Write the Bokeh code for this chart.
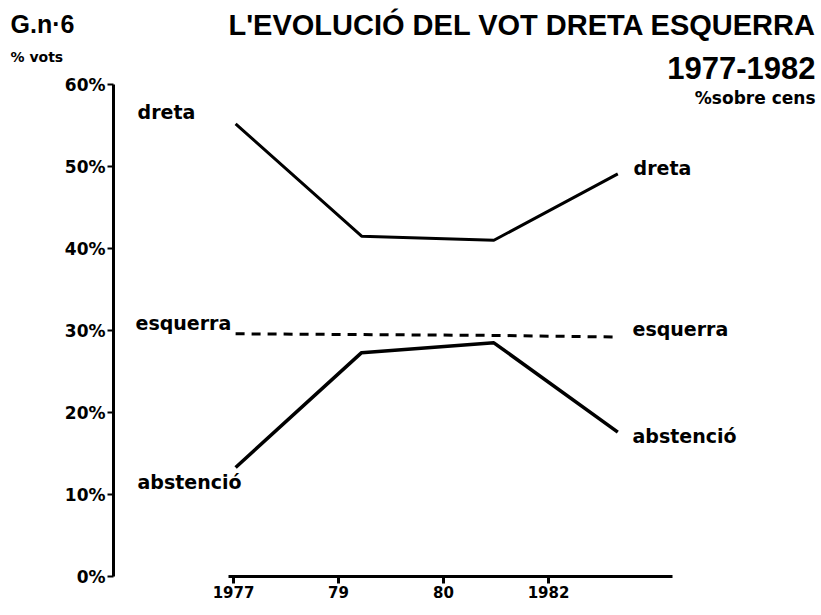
from bokeh.plotting import figure
from bokeh.models import Range1d, FixedTicker, Label
from bokeh.embed import file_html
from bokeh.resources import INLINE

# ---- data ----
elections = ["1977", "79", "80", "1982"]          # x tick labels
tick_pos = [0, 1, 2, 3]                            # tick positions
x_pos = [0.02, 1.22, 2.48, 3.66]                   # where the points are drawn
dreta = [55.2, 41.5, 41.0, 49.1]
esquerra = [29.6, 29.5, 29.4, 29.2]
abstencio = [13.3, 27.3, 28.5, 17.6]
y_ticks = [0, 10, 20, 30, 40, 50, 60]
y_tick_labels = ["0%", "10%", "20%", "30%", "40%", "50%", "60%"]

FONT = "DejaVu Sans"
TFONT = "Liberation Sans"
W, H = 821, 612
X0, PXU = 233, 105.0     # canvas x of first tick, pixels per x unit
Y0, PXP = 576, 8.2       # canvas y of 0 %, pixels per percent
AXIS_X = 113             # canvas x of the y axis

p = figure(width=W, height=H, output_backend="svg", toolbar_location=None,
           x_range=Range1d(-X0 / PXU, (W - X0) / PXU),
           y_range=Range1d(-(H - Y0) / PXP, Y0 / PXP),
           min_border_left=0, min_border_right=0, min_border_top=0,
           min_border_bottom=0)
p.xgrid.visible = False
p.ygrid.visible = False
p.outline_line_color = None
p.background_fill_color = "white"
p.border_fill_color = "white"

# x axis
xa = p.xaxis[0]
xa.fixed_location = 0
xa.ticker = FixedTicker(ticks=tick_pos)
xa.major_label_overrides = {t: l for t, l in zip(tick_pos, elections)}
xa.bounds = (-0.05, 4.18)
xa.axis_line_width = 3
xa.axis_line_color = "black"
xa.major_tick_line_width = 3
xa.major_tick_out = 7
xa.major_tick_in = 0
xa.minor_tick_line_color = None
xa.major_label_standoff = 2
xa.major_label_text_font = FONT
xa.major_label_text_font_style = "bold"
xa.major_label_text_font_size = "15px"
xa.major_label_text_color = "black"

# y axis
ya = p.yaxis[0]
ya.fixed_location = (AXIS_X - X0) / PXU
ya.ticker = FixedTicker(ticks=y_ticks)
ya.major_label_overrides = {t: l for t, l in zip(y_ticks, y_tick_labels)}
ya.bounds = (0, 60)
ya.axis_line_width = 3
ya.axis_line_color = "black"
ya.major_tick_line_width = 2
ya.major_tick_out = 6
ya.major_tick_in = 0
ya.minor_tick_line_color = None
ya.major_label_standoff = 2
ya.major_label_text_font = FONT
ya.major_label_text_font_style = "bold"
ya.major_label_text_font_size = "17px"
ya.major_label_text_color = "black"

# series
p.line(x_pos, dreta, line_color="black", line_width=3)
p.line(x_pos, esquerra, line_color="black", line_width=3, line_dash="9 7")
p.line(x_pos, abstencio, line_color="black", line_width=3.5)

def lab(x, y, text, size="19px", font=FONT, align="left"):
    p.add_layout(Label(x=x, y=y, text=text,
                       text_font=font, text_font_style="bold",
                       text_font_size=size, text_color="black",
                       text_align=align, text_baseline="middle"))

def slab(cx, cy, text, size, font=FONT, align="left"):
    # canvas pixel position -> screen units (frame covers the whole canvas)
    p.add_layout(Label(x=cx, y=H - cy, x_units="screen", y_units="screen",
                       text=text, text_font=font, text_font_style="bold",
                       text_font_size=size, text_color="black",
                       text_align=align, text_baseline="middle"))

# series labels
lab(-0.914, 56.6, "dreta")
lab(3.81, 49.8, "dreta")
lab(-0.933, 30.9, "esquerra")
lab(3.80, 30.2, "esquerra")
lab(-0.914, 11.5, "abstenció")
lab(3.80, 17.1, "abstenció")

# titles
slab(10, 23, "G.n·6", "25px", font=TFONT)
slab(10, 56, "% vots", "14px")
slab(816, 24, "L'EVOLUCIÓ DEL VOT DRETA ESQUERRA", "29px", font=TFONT, align="right")
slab(815, 67, "1977-1982", "31px", font=TFONT, align="right")
slab(815, 97, "%sobre cens", "17px", align="right")

open("out.html", "w").write(file_html(p, INLINE))
